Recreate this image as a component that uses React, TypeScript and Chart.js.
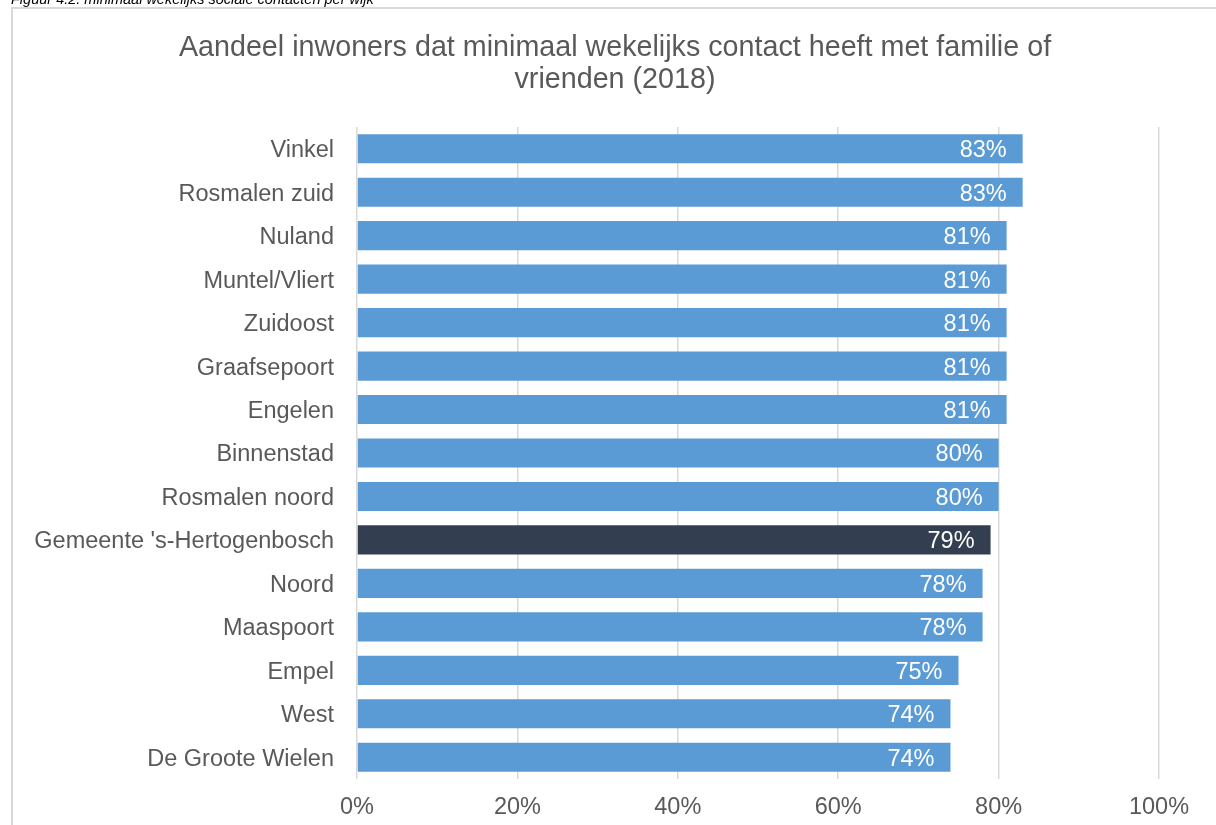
import React, { useEffect, useRef } from "react";
import { Chart, registerables } from "chart.js";

Chart.register(...registerables);

const categories = [
  "Vinkel",
  "Rosmalen zuid",
  "Nuland",
  "Muntel/Vliert",
  "Zuidoost",
  "Graafsepoort",
  "Engelen",
  "Binnenstad",
  "Rosmalen noord",
  "Gemeente 's-Hertogenbosch",
  "Noord",
  "Maaspoort",
  "Empel",
  "West",
  "De Groote Wielen",
];
const values = [83, 83, 81, 81, 81, 81, 81, 80, 80, 79, 78, 78, 75, 74, 74];
const highlight = "Gemeente 's-Hertogenbosch";
const titleLines = [
  "Aandeel inwoners dat minimaal wekelijks contact heeft met familie of",
  "vrienden (2018)",
];
const caption = "Figuur 4.2: minimaal wekelijks sociale contacten per wijk";

const FONT = "'Liberation Sans', Arial, sans-serif";
const GRAY = "#595959";
const BLUE = "#5B9BD5";
const DARK = "#333F50";
const GRID = "#d9d9d9";

const decorPlugin = {
  id: "decor",
  beforeDraw(chart: any) {
    const ctx = chart.ctx;
    ctx.save();
    ctx.fillStyle = "#ffffff";
    ctx.fillRect(0, 0, chart.width, chart.height);
    ctx.strokeStyle = GRID;
    ctx.lineWidth = 2;
    ctx.strokeRect(12, 8, chart.width + 20, chart.height + 20);
    ctx.fillStyle = "#000000";
    ctx.font = `italic 14.5px ${FONT}`;
    ctx.textAlign = "left";
    ctx.textBaseline = "alphabetic";
    ctx.fillText(caption, 11, 3.5);
    ctx.fillStyle = GRAY;
    ctx.font = `28.7px ${FONT}`;
    ctx.textAlign = "center";
    ctx.textBaseline = "middle";
    ctx.fillText(titleLines[0], 615, 48);
    ctx.fillText(titleLines[1], 615, 80);
    ctx.restore();
  },
  afterDatasetsDraw(chart: any) {
    const ctx = chart.ctx;
    const meta = chart.getDatasetMeta(0);
    ctx.save();
    ctx.fillStyle = "#ffffff";
    ctx.font = `23.5px ${FONT}`;
    ctx.textAlign = "right";
    ctx.textBaseline = "middle";
    meta.data.forEach((bar: any, i: number) => {
      ctx.fillText(`${values[i]}%`, bar.x - 16, bar.y + 2);
    });
    ctx.restore();
  },
};

export default function App() {
  const ref = useRef<HTMLCanvasElement>(null);
  useEffect(() => {
    if (!ref.current) return;
    const chart = new Chart(ref.current, {
      type: "bar",
      data: {
        labels: categories,
        datasets: [
          {
            data: values,
            backgroundColor: categories.map((c) => (c === highlight ? DARK : BLUE)),
            barPercentage: 0.67,
            categoryPercentage: 1,
          },
        ],
      },
      options: {
        indexAxis: "y",
        responsive: false,
        animation: false,
        events: [],
        layout: { padding: { left: 0, right: 57, top: 127, bottom: 0 } },
        plugins: {
          legend: { display: false },
          title: { display: false },
          tooltip: { enabled: false },
        },
        scales: {
          x: {
            min: 0,
            max: 100,
            afterFit: (s: any) => {
              s.height = 46;
            },
            grid: { color: GRID, lineWidth: 1.5, drawTicks: false },
            border: { display: false },
            ticks: {
              stepSize: 20,
              padding: 14,
              color: GRAY,
              font: { family: FONT, size: 23.5 },
              callback: (v: any) => `${v}%`,
            },
          },
          y: {
            afterFit: (s: any) => {
              s.width = 357;
            },
            grid: { display: false, drawTicks: false },
            border: { display: false },
            ticks: {
              padding: 23,
              labelOffset: 2,
              color: GRAY,
              font: { family: FONT, size: 23.5 },
            },
          },
        },
      },
      plugins: [decorPlugin],
    } as any);
    return () => chart.destroy();
  }, []);
  return (
    <div style={{ position: "fixed", left: 0, top: 0, width: 1216, height: 825, overflow: "hidden", background: "#fff" }}>
      <canvas ref={ref} width={1216} height={825} style={{ display: "block" }} />
    </div>
  );
}
